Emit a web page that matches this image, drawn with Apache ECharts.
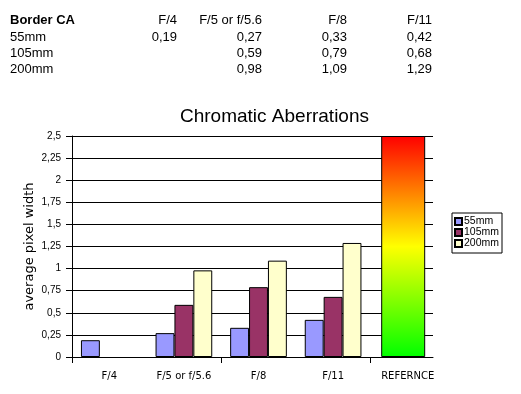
<!DOCTYPE html>
<html><head><meta charset="utf-8">
<script src="https://cdn.jsdelivr.net/npm/echarts@6/dist/echarts.min.js"></script>
<style>html,body{margin:0;padding:0;background:#fff}#c{width:521px;height:394px}</style>
</head><body><div id="c"></div>
<script>
const categories = ['F/4', 'F/5 or f/5.6', 'F/8', 'F/11', 'REFERNCE'];
const tableHeader = ['F/4', 'F/5 or f/5.6', 'F/8', 'F/11'];
const seriesNames = ['55mm', '105mm', '200mm'];
const s55 = [0.19, 0.27, 0.33, 0.42, null];
const s105 = [null, 0.59, 0.79, 0.68, null];
const s200 = [null, 0.98, 1.09, 1.29, null];
const reference = [null, null, null, null, 2.5];
const yTicks = [0, 0.25, 0.5, 0.75, 1, 1.25, 1.5, 1.75, 2, 2.25, 2.5];

const FONT = '"Liberation Sans", Arial, sans-serif';
const FONT2 = '"DejaVu Sans", sans-serif';
const fmt = v => String(v).replace('.', ',');
const fmt2 = v => v.toFixed(2).replace('.', ',');

// table graphics
const colRight = [177, 262, 347, 432];
const rowY = [20, 37, 53, 69];
const g = [];
g.push({type:'text', x:10, y:rowY[0], style:{text:'Border CA', font:'bold 13px '+FONT, fill:'#000', verticalAlign:'middle'}});
tableHeader.forEach((h,i)=>g.push({type:'text', x:colRight[i], y:rowY[0], style:{text:h, font:'13px '+FONT, fill:'#000', align:'right', verticalAlign:'middle'}}));
[s55, s105, s200].forEach((arr, r)=>{
  g.push({type:'text', x:10, y:rowY[r+1], style:{text:seriesNames[r], font:'13px '+FONT, fill:'#000', verticalAlign:'middle'}});
  arr.slice(0,4).forEach((v,i)=>{ if(v!=null) g.push({type:'text', x:colRight[i], y:rowY[r+1], style:{text:fmt2(v), font:'13px '+FONT, fill:'#000', align:'right', verticalAlign:'middle'}}); });
});

// plot geometry: category band area is 72..445, drawn frame ends at 433
const PL = 72, PR_BAND = 445, PR_FRAME = 433, W = 521;
const catW = (PR_BAND - PL) / categories.length;

const chart = echarts.init(document.getElementById('c'), null, {renderer:'canvas'});
const border = {borderColor:'#000', borderWidth:1};
chart.setOption({
  animation:false,
  backgroundColor:'#fff',
  textStyle:{fontFamily:FONT},
  title:{text:'Chromatic Aberrations', left:269.5, top:102, textAlign:'center',
    textStyle:{fontSize:19, fontWeight:'normal', color:'#000', fontFamily:FONT}},
  graphic:g,
  legend:{data:seriesNames, orient:'vertical', left:452, top:213, icon:'rect', itemWidth:7, itemHeight:7, itemGap:0,
    borderColor:'#000', borderWidth:1, borderRadius:0, padding:[3,3,4,2],
    textStyle:{fontSize:10.5, lineHeight:10, color:'#000', fontFamily:FONT, padding:[0,0,0,-3]}},
  grid:[{left:PL, right:W-PR_FRAME, top:136, bottom:37},
        {left:PL, right:W-PR_BAND, top:136, bottom:37},
        {left:PL, right:W-(PL+catW*(categories.length-1)), top:136, bottom:37}],
  xAxis:[
    {gridIndex:0, type:'value', min:0, max:1, axisLine:{show:true, onZero:true, lineStyle:{color:'#000'}},
      axisTick:{show:false}, axisLabel:{show:false}, splitLine:{show:false}},
    {gridIndex:1, type:'category', data:categories, axisLine:{show:false}, axisTick:{show:false},
      axisLabel:{fontSize:10, color:'#000', margin:14, fontFamily:FONT2}},
    {gridIndex:1, type:'category', data:categories, show:false},
    {gridIndex:2, type:'category', data:categories.slice(0, categories.length-1), axisLine:{show:false},
      axisTick:{show:true, length:6, lineStyle:{color:'#000'}}, axisLabel:{show:false}}],
  yAxis:[
    {gridIndex:0, type:'value', min:0, max:2.5, interval:0.25,
      name:'average pixel width', nameLocation:'middle', nameGap:36, nameMoveOverlap:false,
      nameTextStyle:{fontSize:13, color:'#000', fontFamily:FONT2},
      axisLine:{show:true, lineStyle:{color:'#000'}}, axisTick:{show:true, length:6, lineStyle:{color:'#000'}},
      axisLabel:{fontSize:10, color:'#000', margin:11, formatter:fmt},
      splitLine:{lineStyle:{color:'#000', width:1}}},
    {gridIndex:1, type:'value', min:0, max:2.5, interval:0.25, show:false, splitLine:{show:false}},
    {gridIndex:2, type:'value', min:0, max:2.5, interval:0.25, show:false, splitLine:{show:false}}],
  series:[
    {name:'55mm', type:'bar', xAxisIndex:1, yAxisIndex:1, data:s55, barGap:'0%', barCategoryGap:'24%', itemStyle:Object.assign({color:'#9999FF'},border)},
    {name:'105mm', type:'bar', xAxisIndex:1, yAxisIndex:1, data:s105, itemStyle:Object.assign({color:'#993366'},border)},
    {name:'200mm', type:'bar', xAxisIndex:1, yAxisIndex:1, data:s200, itemStyle:Object.assign({color:'#FFFFCC'},border)},
    {name:'Reference', type:'bar', xAxisIndex:2, yAxisIndex:1, data:reference, barWidth:44, barGap:'0%',
      itemStyle:{borderColor:'#000', borderWidth:1, color:new echarts.graphic.LinearGradient(0,0,0,1,[
        {offset:0,color:'#FF0000'},{offset:0.5,color:'#FFFF00'},{offset:1,color:'#00FF00'}])}},
    {name:'pad', type:'bar', xAxisIndex:2, yAxisIndex:1, data:[null,null,null,null,null], barWidth:9, silent:true},
    {name:'ticks', type:'bar', xAxisIndex:3, yAxisIndex:2, data:[null,null,null,null], silent:true}
  ]
});
</script></body></html>
